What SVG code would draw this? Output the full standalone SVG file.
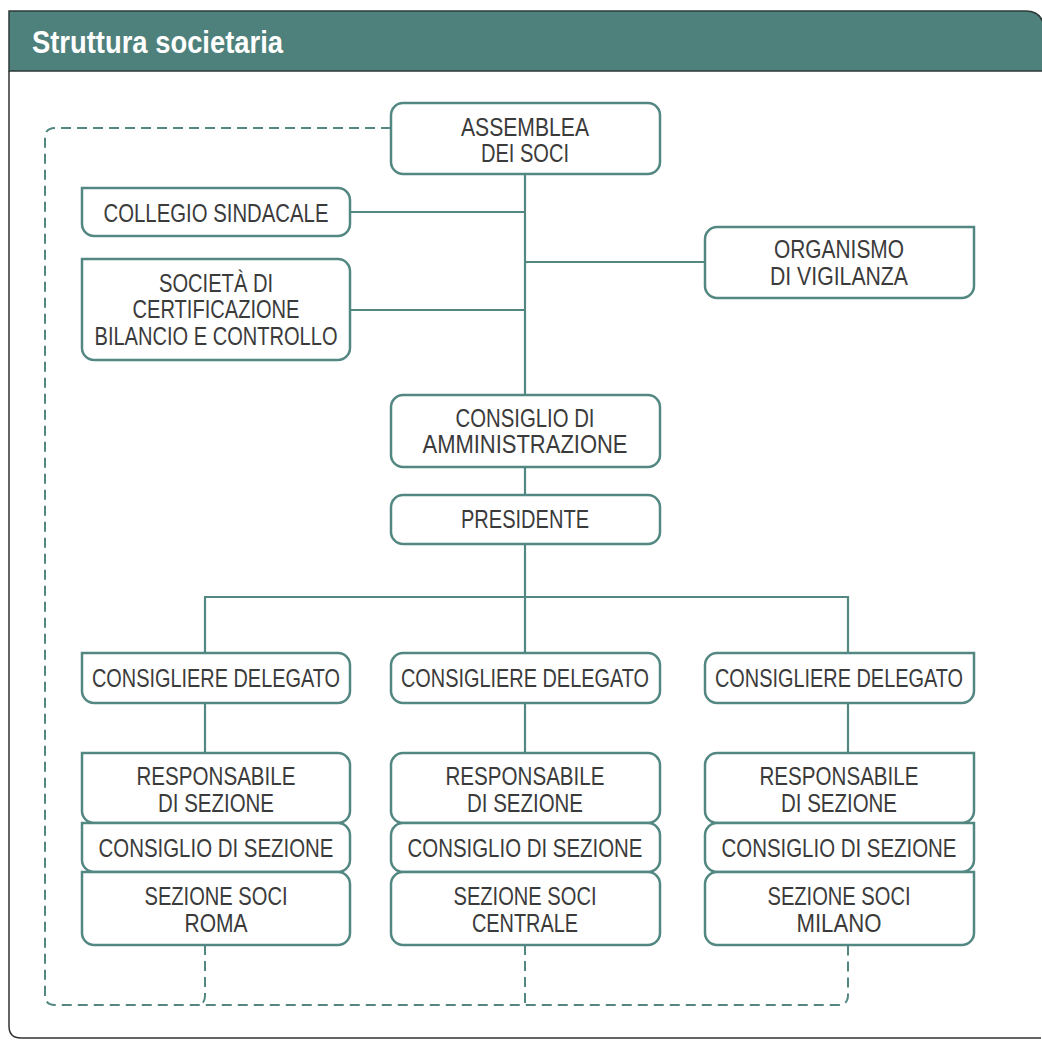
<svg xmlns="http://www.w3.org/2000/svg" width="1042" height="1040" viewBox="0 0 1042 1040">
<style>
.box{fill:#fff;stroke:#528782;stroke-width:2.5}
.ln{fill:none;stroke:#528782;stroke-width:2.2}
.dash{fill:none;stroke:#528782;stroke-width:2;stroke-dasharray:10 6}
.t{font-family:"Liberation Sans Narrow","Liberation Sans",Arial,sans-serif;font-size:25px;fill:#3b3b3b;text-anchor:middle}
.h{font-family:"Liberation Sans Narrow","Liberation Sans",Arial,sans-serif;font-size:32px;font-weight:bold;fill:#fff}
</style>
<rect width="1042" height="1040" fill="#fff"/>
<g id="frame">
<path d="M9,71 V1026 Q9,1038 21,1038 H1041" fill="none" stroke="#333" stroke-width="1.5"/>
<path d="M9,71 V11 H1026 Q1041,11 1044,26 V71 Z" fill="#4f817c" stroke="#2d3a39" stroke-width="1.5"/>
<text class="h" x="32" y="53" textLength="251" lengthAdjust="spacingAndGlyphs">Struttura societaria</text>
</g>
<g id="connectors">
<path class="ln" d="M525,174 V395 M349,212 H525 M349,310 H525 M525,262 H705 M525,467 V495 M525,544 V653 M205,653 V597 H848 V653 M205,703 V753 M525,703 V753 M848,703 V753"/>
<path class="dash" d="M391,128 H55 Q45,128 45,138 V995 Q45,1005 55,1005 H838 Q848,1005 848,995 V945"/>
<path class="dash" d="M205,945 V996 Q205,1005 196,1005 M525,945 V1005"/>
</g>
<g id="assemblea"><rect class="box" x="391" y="103" width="269" height="71" rx="12"/>
<text class="t" x="525" y="136" textLength="128" lengthAdjust="spacingAndGlyphs">ASSEMBLEA</text>
<text class="t" x="525" y="162" textLength="88" lengthAdjust="spacingAndGlyphs">DEI SOCI</text></g>
<g id="collegio"><path class="box" d="M82,188 H338 A12,12 0 0 1 350,200 V224 A12,12 0 0 1 338,236 H94 A12,12 0 0 1 82,224 Z"/>
<text class="t" x="216" y="222" textLength="225" lengthAdjust="spacingAndGlyphs">COLLEGIO SINDACALE</text></g>
<g id="societa"><path class="box" d="M82,259 H338 A12,12 0 0 1 350,271 V348 A12,12 0 0 1 338,360 H94 A12,12 0 0 1 82,348 Z"/>
<text class="t" x="216" y="292" textLength="114" lengthAdjust="spacingAndGlyphs">SOCIETÀ DI</text>
<text class="t" x="216" y="318" textLength="167" lengthAdjust="spacingAndGlyphs">CERTIFICAZIONE</text>
<text class="t" x="216" y="345" textLength="243" lengthAdjust="spacingAndGlyphs">BILANCIO E CONTROLLO</text></g>
<g id="organismo"><path class="box" d="M717,227 H974 V286 A12,12 0 0 1 962,298 H717 A12,12 0 0 1 705,286 V239 A12,12 0 0 1 717,227 Z"/>
<text class="t" x="839" y="258" textLength="130" lengthAdjust="spacingAndGlyphs">ORGANISMO</text>
<text class="t" x="839" y="285" textLength="138" lengthAdjust="spacingAndGlyphs">DI VIGILANZA</text></g>
<g id="cda"><rect class="box" x="391" y="395" width="269" height="72" rx="12"/>
<text class="t" x="525" y="427" textLength="139" lengthAdjust="spacingAndGlyphs">CONSIGLIO DI</text>
<text class="t" x="525" y="453" textLength="205" lengthAdjust="spacingAndGlyphs">AMMINISTRAZIONE</text></g>
<g id="presidente"><rect class="box" x="391" y="495" width="269" height="49" rx="12"/>
<text class="t" x="525" y="528" textLength="128" lengthAdjust="spacingAndGlyphs">PRESIDENTE</text></g>
<g id="consigliere-roma"><path class="box" d="M82,653 H338 A12,12 0 0 1 350,665 V691 A12,12 0 0 1 338,703 H94 A12,12 0 0 1 82,691 Z"/>
<text class="t" x="216" y="687" textLength="248" lengthAdjust="spacingAndGlyphs">CONSIGLIERE DELEGATO</text></g>
<g id="consigliere-centrale"><rect class="box" x="391" y="653" width="269" height="50" rx="12"/>
<text class="t" x="525" y="687" textLength="248" lengthAdjust="spacingAndGlyphs">CONSIGLIERE DELEGATO</text></g>
<g id="consigliere-milano"><path class="box" d="M717,653 H974 V691 A12,12 0 0 1 962,703 H717 A12,12 0 0 1 705,691 V665 A12,12 0 0 1 717,653 Z"/>
<text class="t" x="839" y="687" textLength="248" lengthAdjust="spacingAndGlyphs">CONSIGLIERE DELEGATO</text></g>
<g id="responsabile-roma"><path class="box" d="M82,753 H338 A12,12 0 0 1 350,765 V811 A12,12 0 0 1 338,823 H94 A12,12 0 0 1 82,811 Z"/>
<text class="t" x="216" y="785" textLength="159" lengthAdjust="spacingAndGlyphs">RESPONSABILE</text>
<text class="t" x="216" y="812" textLength="116" lengthAdjust="spacingAndGlyphs">DI SEZIONE</text></g>
<g id="consiglio-sezione-roma"><path class="box" d="M82,823 H338 A12,12 0 0 1 350,835 V860 A12,12 0 0 1 338,872 H94 A12,12 0 0 1 82,860 Z"/>
<text class="t" x="216" y="857" textLength="235" lengthAdjust="spacingAndGlyphs">CONSIGLIO DI SEZIONE</text></g>
<g id="sezione-roma"><path class="box" d="M82,872 H338 A12,12 0 0 1 350,884 V933 A12,12 0 0 1 338,945 H94 A12,12 0 0 1 82,933 Z"/>
<text class="t" x="216" y="905" textLength="143" lengthAdjust="spacingAndGlyphs">SEZIONE SOCI</text>
<text class="t" x="216" y="932" textLength="63" lengthAdjust="spacingAndGlyphs">ROMA</text></g>
<g id="responsabile-centrale"><rect class="box" x="391" y="753" width="269" height="70" rx="12"/>
<text class="t" x="525" y="785" textLength="159" lengthAdjust="spacingAndGlyphs">RESPONSABILE</text>
<text class="t" x="525" y="812" textLength="116" lengthAdjust="spacingAndGlyphs">DI SEZIONE</text></g>
<g id="consiglio-sezione-centrale"><rect class="box" x="391" y="823" width="269" height="49" rx="12"/>
<text class="t" x="525" y="857" textLength="235" lengthAdjust="spacingAndGlyphs">CONSIGLIO DI SEZIONE</text></g>
<g id="sezione-centrale"><rect class="box" x="391" y="872" width="269" height="73" rx="12"/>
<text class="t" x="525" y="905" textLength="143" lengthAdjust="spacingAndGlyphs">SEZIONE SOCI</text>
<text class="t" x="525" y="932" textLength="106" lengthAdjust="spacingAndGlyphs">CENTRALE</text></g>
<g id="responsabile-milano"><path class="box" d="M717,753 H974 V811 A12,12 0 0 1 962,823 H717 A12,12 0 0 1 705,811 V765 A12,12 0 0 1 717,753 Z"/>
<text class="t" x="839" y="785" textLength="159" lengthAdjust="spacingAndGlyphs">RESPONSABILE</text>
<text class="t" x="839" y="812" textLength="116" lengthAdjust="spacingAndGlyphs">DI SEZIONE</text></g>
<g id="consiglio-sezione-milano"><path class="box" d="M717,823 H974 V860 A12,12 0 0 1 962,872 H717 A12,12 0 0 1 705,860 V835 A12,12 0 0 1 717,823 Z"/>
<text class="t" x="839" y="857" textLength="235" lengthAdjust="spacingAndGlyphs">CONSIGLIO DI SEZIONE</text></g>
<g id="sezione-milano"><path class="box" d="M717,872 H974 V933 A12,12 0 0 1 962,945 H717 A12,12 0 0 1 705,933 V884 A12,12 0 0 1 717,872 Z"/>
<text class="t" x="839" y="905" textLength="143" lengthAdjust="spacingAndGlyphs">SEZIONE SOCI</text>
<text class="t" x="839" y="932" textLength="85" lengthAdjust="spacingAndGlyphs">MILANO</text></g>
</svg>
